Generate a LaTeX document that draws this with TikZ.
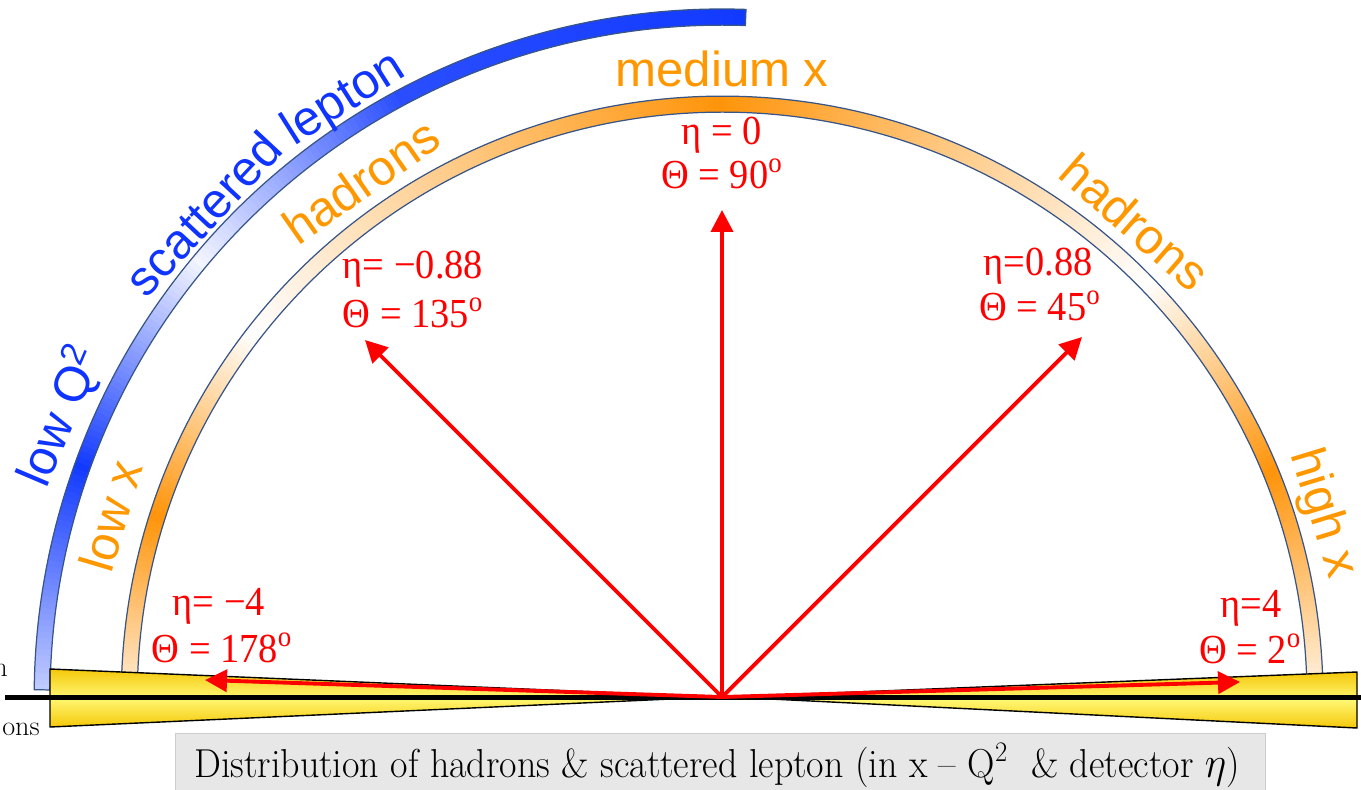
\documentclass[tikz,border=0pt]{standalone}
\usepackage{fontspec}
\newfontfamily\lsans{Liberation Sans}
\newfontfamily\lserif{Liberation Serif}
\usetikzlibrary{arrows.meta}
\definecolor{orF}{RGB}{255,148,10}
\definecolor{orT}{RGB}{255,152,0}
\definecolor{blD}{RGB}{18,58,255}
\definecolor{blT}{RGB}{16,52,255}
\definecolor{edgeC}{RGB}{55,85,135}
\definecolor{goldC}{RGB}{245,200,10}
\definecolor{yelC}{RGB}{255,247,115}
\definecolor{capfill}{RGB}{231,231,231}
\definecolor{capdraw}{RGB}{205,205,205}
\definecolor{redC}{RGB}{255,0,0}
\newcommand{\rlab}[1]{\scalebox{0.93}[1]{#1}}
\begin{document}
\begin{tikzpicture}[x=0.02cm,y=0.02cm,
  redlbl/.style={text=redC, font=\lserif\fontsize{23.5}{27}\selectfont, anchor=base, inner sep=0pt},
  orlbl/.style={text=orT, font=\lsans\fontsize{28}{34}\selectfont, anchor=base, inner sep=0pt},
  bllbl/.style={text=blT, font=\lsans\fontsize{28}{34}\selectfont, anchor=base, inner sep=0pt},
  ray/.style={draw=redC, line width=2.2pt, -{Triangle[length=0.44cm,width=0.44cm]}},
  cone/.style={draw=black, line width=0.8pt, top color=goldC, bottom color=goldC, middle color=yelC},
  arcedge/.style={draw=edgeC, line width=0.7pt},
  fragtext/.style={anchor=base east, inner sep=0pt, font=\fontsize{16}{19}\selectfont},
]
\useasboundingbox (0,0) rectangle (1361,789);
\coordinate (O) at (722,92);
\begin{scope}[shift={(722,92)}]
  % blue arc (scattered lepton)
  \foreach \a in {88,88.5,...,179}{
    \pgfmathsetmacro\q{(\a>160) ? (100-75*(\a-160)/19.4) : ((\a>140) ? (5+95*(\a-140)/20) : ((\a>118) ? (90-85*(\a-118)/22) : (90+10*(118-\a)/30)))}
    \pgfmathsetmacro\b{min(\a+0.6,179.4)}
    \fill[blD!\q!white] (\a:672) -- (\a:688) -- (\b:688) -- (\b:672) -- cycle;
  }
  \draw[arcedge] (88:688) arc[start angle=88,end angle=179.4,radius=13.76cm] -- (179.4:672) arc[start angle=179.4,end angle=88,radius=13.44cm] -- cycle;
  % orange arc (hadrons)
  \foreach \a in {2.3,2.8,...,177.3}{
    \pgfmathsetmacro\p{(\a<22) ? (20+80*(\a-2.3)/19.7) : ((\a<44) ? (100*(44-\a)/22) : ((\a<90) ? (100*(\a-44)/46) : ((\a<142) ? (100*(142-\a)/52) : ((\a<162) ? (100*(\a-142)/20) : (100-75*(\a-162)/15.7)))))}
    \pgfmathsetmacro\b{min(\a+0.6,177.7)}
    \fill[orF!\p!white] (\a:585) -- (\a:601) -- (\b:601) -- (\b:585) -- cycle;
  }
  \draw[arcedge] (2.3:601) arc[start angle=2.3,end angle=177.7,radius=12.02cm];
  \draw[arcedge] (2.3:585) arc[start angle=2.3,end angle=177.7,radius=11.7cm];
  % arc labels
  \node[bllbl, rotate=47] (lblsc) at (137:692) {scattered};
  \node[bllbl, rotate=32.3] (lbllep) at (122.3:694) {lepton};
  \node[bllbl, rotate=67] (lbllowq) at (157:703) {low Q\textsuperscript{2}};
  \node[orlbl, rotate=73.5] (lbllowx) at (163.5:620) {low x};
  \node[orlbl, rotate=35] (lblhadl) at (125:612) {hadrons};
  \node[orlbl, rotate=-41] (lblhadr) at (49:612) {hadrons};
  \node[orlbl, rotate=-73] (lblhighx) at (17:615) {high x};
  \node[orlbl] (lblmed) at (90:610) {medium x};
\end{scope}
% beam cones
\path[cone] (50,120) -- (715,92) -- (50,62) -- cycle;
\path[cone] (1357,117) -- (730,92) -- (1357,61) -- cycle;
% beam line
\draw[line width=0.1cm] (5,92) -- (1361,92);
% fragments at the left edge
\node[fragtext] (fragA) at (8,113) {n};
\node[fragtext] (fragB) at (40,54) {ons};
% rays
\coordinate (t90) at (722,579);
\coordinate (t135) at (365,449);
\coordinate (t45) at (1082,452);
\coordinate (t178) at (205,109);
\coordinate (t2) at (1240,107);
\draw[ray] (O) -- (t90);
\draw[ray] (O) -- (t135);
\draw[ray] (O) -- (t45);
\draw[ray] (O) -- (t178);
\draw[ray] (O) -- (t2);
% red labels
\node[redlbl] (e90) at (722,644) {\rlab{η = 0}};
\node[redlbl] (th90) at (722,601) {\rlab{Θ = 90\textsuperscript{o}}};
\node[redlbl] (e135) at (413,511) {\rlab{η= −0.88}};
\node[redlbl] (th135) at (413,462) {\rlab{Θ = 135\textsuperscript{o}}};
\node[redlbl] (e45) at (1038,514) {\rlab{η=0.88}};
\node[redlbl] (th45) at (1040,469) {\rlab{Θ = 45\textsuperscript{o}}};
\node[redlbl] (e178) at (219,174) {\rlab{η= −4}};
\node[redlbl] (th178) at (222,127) {\rlab{Θ = 178\textsuperscript{o}}};
\node[redlbl] (e2) at (1251,172) {\rlab{η=4}};
\node[redlbl] (th2) at (1250,126) {\rlab{Θ = 2\textsuperscript{o}}};
% caption
\node[fill=capfill, draw=capdraw, line width=0.6pt, minimum width=21.8cm, minimum height=1.3cm, anchor=north west, inner sep=0pt] (capbox) at (175,56) {};
\node[anchor=base, inner sep=0pt, font=\fontsize{23}{27}\selectfont] (captxt) at (717,12) {\scalebox{0.94}[1]{Distribution of hadrons \& scattered lepton (in x – Q\textsuperscript{2}\ \ \& detector $\eta$)}};
\end{tikzpicture}
\end{document}
